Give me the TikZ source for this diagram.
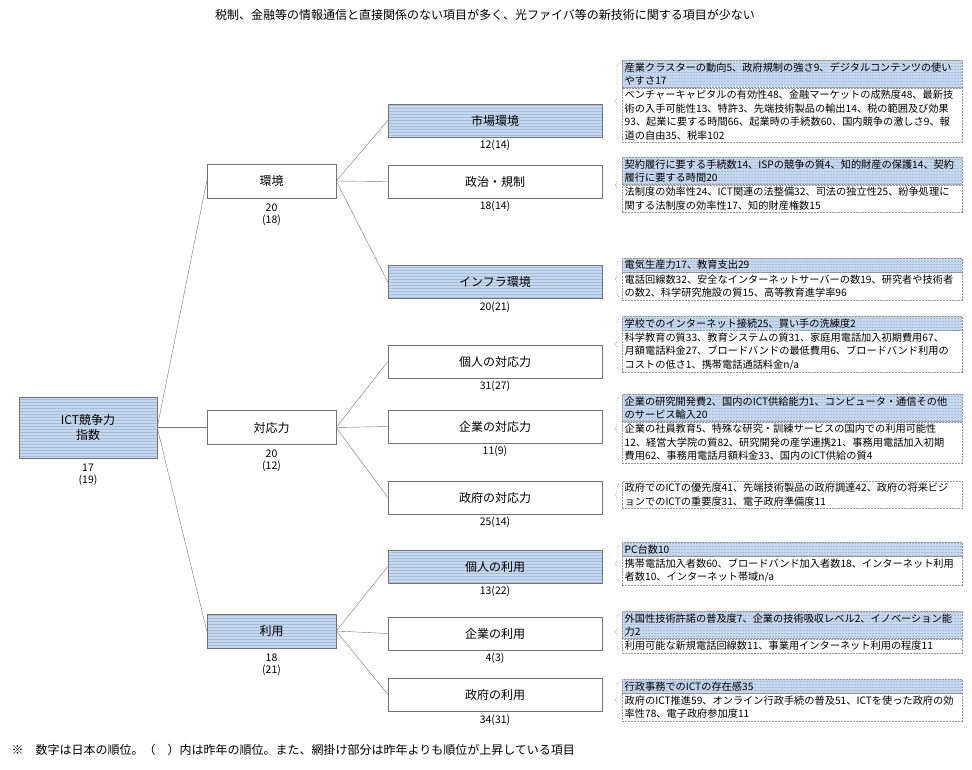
\documentclass[tikz,border=0pt]{standalone}
\usepackage{fontspec}
\setmainfont{Noto Sans CJK JP}
\usetikzlibrary{positioning,patterns,decorations.pathreplacing}
\definecolor{hbg}{RGB}{200,216,236}
\definecolor{hln}{RGB}{165,190,222}
\definecolor{lcol}{RGB}{115,115,115}
\definecolor{dcol}{RGB}{150,150,150}

\begin{document}
\begin{tikzpicture}[x=1pt,y=-1pt, node distance=3pt,
  cat/.style={draw=lcol,minimum height=33pt,font=\fontsize{12}{14.5}\selectfont,align=center,inner sep=1pt},
  lv2/.style={cat,minimum width=129pt,minimum height=34pt},
  lv3/.style={cat,minimum width=214pt},
  net/.style={preaction={fill=hbg},pattern=horizontal lines,pattern color=hln},
  rank/.style={font=\fontsize{10.5}{12}\selectfont,align=center,inner sep=0pt},
  info/.style={draw=dcol,dash pattern=on 2pt off 1pt,text width=335pt,align=left,anchor=north west,
    inner xsep=2.5pt,inner ysep=2.2pt,font=\fontsize{10.2}{13.5}\selectfont},
  brc/.style={draw=black!25,decorate,decoration={brace,amplitude=4pt}},
  link/.style={draw=lcol}]
\useasboundingbox (0,0) rectangle (972,769);

\node[font=\fontsize{12}{14}\selectfont] (title) at (485,15) {税制、金融等の情報通信と直接関係のない項目が多く、光ファイバ等の新技術に関する項目が少ない};

% tree
\node[cat,net,minimum width=138pt,minimum height=61pt] (root) at (88,427.5) {ICT競争力\\指数};
\node[rank, below=6pt of root] (r0) {17\\(19)};

\node[lv2] (kankyo) at (271.5,181) {環境};
\node[lv2] (taiou) at (271.5,427.5) {対応力};
\node[lv2,net] (riyou) at (271.5,631) {利用};
\node[rank, below=5pt of kankyo] (rk) {20\\(18)};
\node[rank, below=5pt of taiou] (rt) {20\\(12)};
\node[rank, below=5pt of riyou] (rr) {18\\(21)};

\node[lv3,net] (shijo) at (495,120.5) {市場環境};
\node[lv3] (seiji) at (495,181.5) {政治・規制};
\node[lv3,net] (infra) at (495,282) {インフラ環境};
\node[lv3] (kojin) at (495,361.5) {個人の対応力};
\node[lv3] (kigyo) at (495,426.5) {企業の対応力};
\node[lv3] (seifu) at (495,497.5) {政府の対応力};
\node[lv3,net] (kojinR) at (495,566.5) {個人の利用};
\node[lv3] (kigyoR) at (495,633.5) {企業の利用};
\node[lv3] (seifuR) at (495,694.5) {政府の利用};
\node[rank, below=3pt of shijo] (r1) {12(14)};
\node[rank, below=3pt of seiji] (r2) {18(14)};
\node[rank, below=3pt of infra] (r3) {20(21)};
\node[rank, below=3pt of kojin] (r4) {31(27)};
\node[rank, below=3pt of kigyo] (r5) {11(9)};
\node[rank, below=3pt of seifu] (r6) {25(14)};
\node[rank, below=3pt of kojinR] (r7) {13(22)};
\node[rank, below=3pt of kigyoR] (r8) {4(3)};
\node[rank, below=3pt of seifuR] (r9) {34(31)};

\foreach \c in {kankyo,taiou,riyou} \draw[link] (root.east) -- (\c.west);
\foreach \c in {shijo,seiji,infra} \draw[link] (kankyo.east) -- (\c.west);
\foreach \c in {kojin,kigyo,seifu} \draw[link] (taiou.east) -- (\c.west);
\foreach \c in {kojinR,kigyoR,seifuR} \draw[link] (riyou.east) -- (\c.west);

% detail boxes
\node[info,net] (k1) at (622,60) {産業クラスターの動向5、政府規制の強さ9、デジタルコンテンツの使い\\やすさ17};
\node[info] (d1) at (k1.south west) {ベンチャーキャピタルの有効性48、金融マーケットの成熟度48、最新技\\術の入手可能性13、特許3、先端技術製品の輸出14、税の範囲及び効果\\93、起業に要する時間66、起業時の手続数60、国内競争の激しさ9、報\\道の自由35、税率102};
\node[info,net] (k2) at (622,157) {契約履行に要する手続数14、ISPの競争の質4、知的財産の保護14、契約\\履行に要する時間20};
\node[info] (d2) at (k2.south west) {法制度の効率性24、ICT関連の法整備32、司法の独立性25、紛争処理に\\関する法制度の効率性17、知的財産権数15};
\node[info,net] (k3) at (622,258) {電気生産力17、教育支出29};
\node[info] (d3) at (k3.south west) {電話回線数32、安全なインターネットサーバーの数19、研究者や技術者\\の数2、科学研究施設の質15、高等教育進学率96};
\node[info,net] (k4) at (622,316) {学校でのインターネット接続25、買い手の洗練度2};
\node[info] (d4) at (k4.south west) {科学教育の質33、教育システムの質31、家庭用電話加入初期費用67、\\月額電話料金27、ブロードバンドの最低費用6、ブロードバンド利用の\\コストの低さ1、携帯電話通話料金n/a};
\node[info,net] (k5) at (622,394) {企業の研究開発費2、国内のICT供給能力1、コンピュータ・通信その他\\のサービス輸入20};
\node[info] (d5) at (k5.south west) {企業の社員教育5、特殊な研究・訓練サービスの国内での利用可能性\\12、経営大学院の質82、研究開発の産学連携21、事務用電話加入初期\\費用62、事務用電話月額料金33、国内のICT供給の質4};
\node[info] (d6) at (622,481) {政府でのICTの優先度41、先端技術製品の政府調達42、政府の将来ビジ\\ョンでのICTの重要度31、電子政府準備度11};
\node[info,net] (k7) at (622,542) {PC台数10};
\node[info] (d7) at (k7.south west) {携帯電話加入者数60、ブロードバンド加入者数18、インターネット利用\\者数10、インターネット帯域n/a};
\node[info,net] (k8) at (622,611) {外国性技術許諾の普及度7、企業の技術吸収レベル2、イノベーション能\\力2};
\node[info] (d8) at (k8.south west) {利用可能な新規電話回線数11、事業用インターネット利用の程度11};
\node[info,net] (k9) at (622,679) {行政事務でのICTの存在感35};
\node[info] (d9) at (k9.south west) {政府のICT推進59、オンライン行政手続の普及51、ICTを使った政府の効\\率性78、電子政府参加度11};

\foreach \i in {1,2,3,4,5,7,8,9}
  \draw[brc] ([xshift=-3pt,yshift=3pt]d\i.south west) -- ([xshift=-3pt,yshift=-3pt]k\i.north west);
\draw[brc] ([xshift=-3pt,yshift=3pt]d6.south west) -- ([xshift=-3pt,yshift=-3pt]d6.north west);

\node[font=\fontsize{12}{14}\selectfont,anchor=west] (note) at (8,750) {※　数字は日本の順位。（　）内は昨年の順位。また、網掛け部分は昨年よりも順位が上昇している項目};
\end{tikzpicture}
\end{document}
